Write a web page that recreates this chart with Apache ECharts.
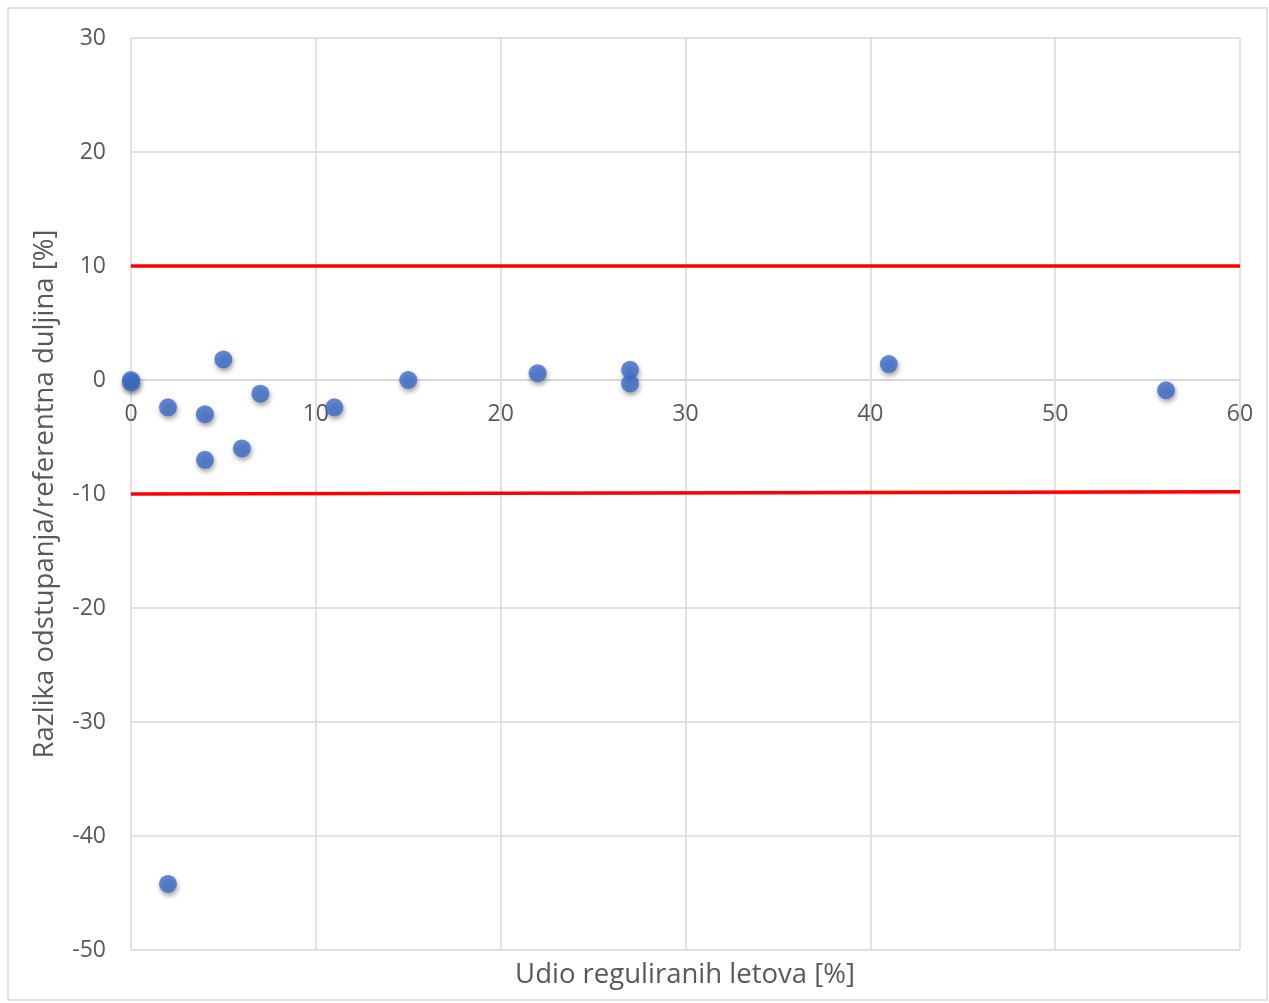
<!DOCTYPE html>
<html><head><meta charset="utf-8">
<script src="https://cdn.jsdelivr.net/npm/echarts@6/dist/echarts.min.js"></script>
<style>html,body{margin:0;padding:0;background:#fff}#c{width:1269px;height:1003px}</style>
</head><body><div id="c"></div>
<script>
const xValues = [0, 0, 2, 2, 4, 4, 5, 6, 7, 11, 15, 22, 27, 27, 41, 56];
const yValues = [0, -0.2, -2.4, -44.2, -3, -7, 1.8, -6, -1.2, -2.4, 0, 0.6, 0.9, -0.3, 1.4, -0.9];
const upperLimit = [[0, 10], [60, 10]];
const lowerLimit = [[0, -10], [60, -9.8]];
const xTitle = 'Udio reguliranih letova [%]';
const yTitle = 'Razlika odstupanja/referentna duljina [%]';

const points = xValues.map((x, i) => [x, yValues[i]]);
const font = '"Open Sans", "Liberation Sans", sans-serif';
const yMin = -50, yMax = 30;
const gridTop = 38, gridBottom = 53, H = 1003;
const plotH = H - gridTop - gridBottom;
const zeroOffset = -Math.round(plotH * (0 - yMin) / (yMax - yMin));
const chart = echarts.init(document.getElementById('c'));
chart.setOption({
  animation: false,
  backgroundColor: '#fff',
  grid: {left: 131, right: 29, top: gridTop, bottom: gridBottom, show: false},
  graphic: [
    {type: 'rect', shape: {x: 8, y: 8, width: 1259, height: 992}, style: {fill: 'none', stroke: '#d9d9d9', lineWidth: 1.5}, silent: true, z: -10},
    {type: 'text', style: {text: xTitle, x: 685, y: 975, align: 'center', verticalAlign: 'middle', fill: '#595959', font: '27.5px ' + font}}
  ],
  xAxis: [{
    type: 'value', min: 0, max: 60, interval: 10, offset: zeroOffset,
    axisLine: {show: true, onZero: false, lineStyle: {color: '#d9d9d9', width: 2}},
    axisTick: {show: false},
    axisLabel: {color: '#595959', fontSize: 23, fontFamily: font, margin: 23},
    splitLine: {show: true, lineStyle: {color: '#d9d9d9', width: 1.5}}
  }],
  yAxis: {
    type: 'value', min: yMin, max: yMax, interval: 10,
    name: yTitle, nameLocation: 'middle', nameGap: 72, nameRotate: 90,
    nameTextStyle: {color: '#595959', fontSize: 27.5, fontFamily: font},
    axisLine: {show: false, onZero: false},
    axisTick: {show: false},
    axisLabel: {color: '#595959', fontSize: 23, fontFamily: font, margin: 25},
    splitLine: {show: true, lineStyle: {color: '#d9d9d9', width: 1.5}}
  },
  series: [
    {type: 'line', data: upperLimit, symbol: 'none', lineStyle: {color: '#ff0000', width: 3.5}, z: 3},
    {type: 'line', data: lowerLimit, symbol: 'none', lineStyle: {color: '#ff0000', width: 3.5}, z: 3},
    {type: 'scatter', data: points, symbolSize: 18, z: 5,
     itemStyle: {color: '#3d6dcc', shadowColor: 'rgba(0,0,0,0.45)', shadowBlur: 5, shadowOffsetX: 1, shadowOffsetY: 3}}
  ]
});
</script></body></html>
